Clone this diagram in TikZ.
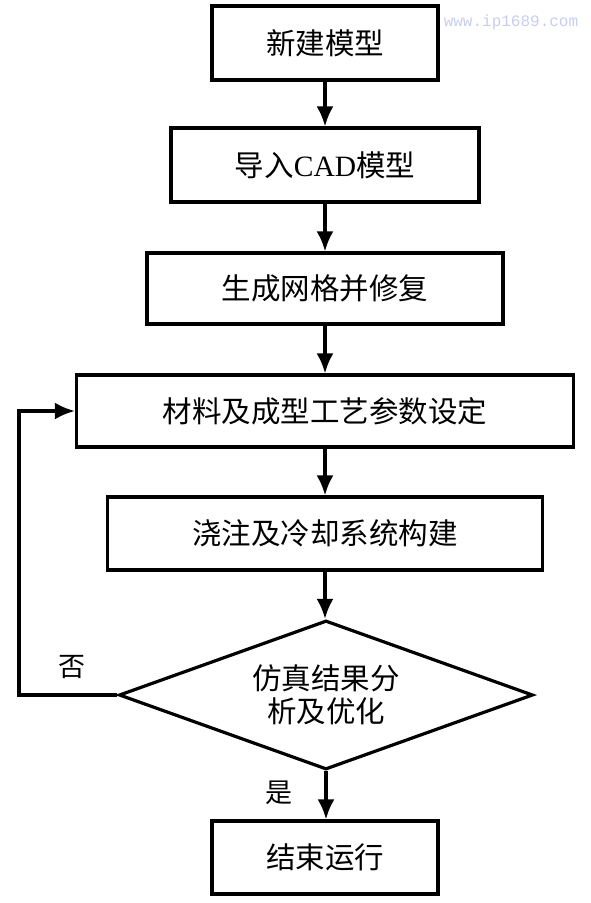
\documentclass[tikz,border=0pt]{standalone}
\usepackage{fontspec}
\newfontfamily\cjk{Noto Sans CJK SC}
\newfontfamily\lat{Liberation Serif}
\newfontfamily\wm{Liberation Mono}
\usetikzlibrary{shapes.geometric,arrows.meta}
\tikzset{
    box/.style={draw, line width=3.2pt, inner sep=0pt, font=\cjk\fontsize{29.5}{33}\selectfont},
    arr/.style={line width=3.2pt, -{Latex[length=20pt,width=17pt]}},
    lbl/.style={font=\cjk\fontsize{27}{30}\selectfont}
}
\begin{document}
\begin{tikzpicture}[x=1pt,y=-1pt]
        \useasboundingbox (0,0) rectangle (591,903);

        \node[box, minimum width=226pt, minimum height=74pt] (new) at (325,43) {新建模型};
        \node[box, minimum width=308pt, minimum height=74pt] (cad) at (325,165) {导入{\lat CAD}模型};
        \node[box, minimum width=356pt, minimum height=71pt] (mesh) at (325,288.5) {生成网格并修复};
        \node[box, minimum width=497pt, minimum height=72pt] (matl) at (325,411) {材料及成型工艺参数设定};
        \node[box, minimum width=435pt, minimum height=73pt] (cool) at (325,533.5) {浇注及冷却系统构建};
        \node[box, diamond, aspect=2.78, align=center, minimum width=414pt, minimum height=149pt,
              font=\cjk\fontsize{29.5}{33}\selectfont] (test) at (326,695) {仿真结果分\\析及优化};
        \node[box, minimum width=226pt, minimum height=73pt] (done) at (325,857.5) {结束运行};

        \node[lbl] (no) at (72,667) {否};
        \node[lbl] (yes) at (279,793) {是};

        \node[font=\wm\fontsize{16}{18}\selectfont, text={rgb,255:red,200;green,205;blue,240}] (mark) at (511,22) {www.ip1689.com};

        \draw[arr] (new) -- (cad);
        \draw[arr] (cad) -- (mesh);
        \draw[arr] (mesh) -- (matl);
        \draw[arr] (matl) -- (cool);
        \draw[arr] (cool.south) -- (cool.south |- test.north);
        \draw[arr] (test.south) -- (test.south |- done.north);

        \coordinate (back) at (19,695);
        \draw[arr] (test.west) -- (back) |- (matl.west);
    \end{tikzpicture}
\end{document}
